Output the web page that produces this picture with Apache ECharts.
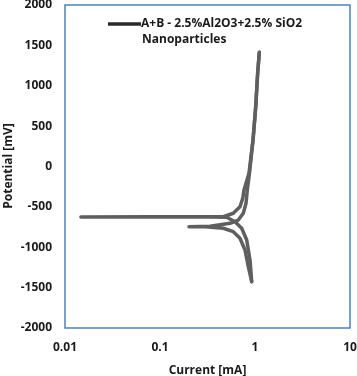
<!DOCTYPE html>
<html>
<head>
<meta charset="utf-8">
<script src="https://cdn.jsdelivr.net/npm/echarts@6/dist/echarts.min.js"></script>
<style>
	html, body { margin: 0; padding: 0; background: #fff; }
	#main { width: 357px; height: 376px; }
</style>
</head>
<body>
<div id="main"></div>
<script>
// curve 1 (Ecorr about -625 mV), traced from cathodic end upward
var curve1Current = [0.923, 0.886, 0.818, 0.724, 0.616, 0.504, 0.336, 0.0785, 0.0147,
	0.0785, 0.464, 0.591, 0.695, 0.743, 0.766, 0.865, 0.953, 1.017, 1.067, 1.11];
var curve1Potential = [-1427, -1158, -910, -765, -684, -629, -625, -625, -625,
	-622, -622, -579, -498, -394, -291, -80, 328, 737, 1158, 1414];

// curve 2 (Ecorr about -745 mV)
var curve2Current = [0.923, 0.85, 0.785, 0.695, 0.591, 0.464, 0.298, 0.202,
	0.336, 0.546, 0.667, 0.753, 0.804, 0.83, 0.875, 0.953, 1.017, 1.067, 1.11];
var curve2Potential = [-1427, -1241, -1034, -889, -807, -765, -746, -745,
	-741, -703, -663, -579, -456, -291, -80, 328, 737, 1158, 1414];

var xTickLabels = ['0.01', '0.1', '1', '10'];
var yTickLabels = ['-2000', '-1500', '-1000', '-500', '0', '500', '1000', '1500', '2000'];
var seriesName = 'A+B - 2.5%Al2O3+2.5% SiO2';
var seriesName2 = 'Nanoparticles';
var yAxisName = 'Potential [mV]';

function zip(xs, ys) {
	var out = [];
	for (var i = 0; i < xs.length; i++) {
		out.push([xs[i], ys[i]]);
	}
	return out;
}

var chart = echarts.init(document.getElementById('main'));
var font = '"Open Sans", sans-serif';
var textColor = '#1a1a1a';
var lineStyle = {
	color : '#5f5f5f',
	width : 3.5,
	cap : 'round',
	join : 'round'
};
var option = {
	animation : false,
	textStyle : { fontFamily : font },
	title : {
		text : seriesName2,
		left : 137,
		top : 29,
		textStyle : {
			fontSize : 12,
			fontWeight : 'bold',
			color : textColor,
			fontFamily : font
		}
	},
	// y axis title drawn as rotated text
	graphic : [ {
		type : 'text',
		x : 9,
		y : 166,
		rotation : Math.PI / 2,
		style : {
			text : yAxisName,
			fill : textColor,
			font : 'bold 12px "Open Sans", sans-serif',
			align : 'center',
			verticalAlign : 'middle'
		}
	} ],
	legend : {
		data : [ {
			name : seriesName,
			icon : 'rect',
			itemStyle : { color : '#2a2a2a' }
		} ],
		left : 103,
		top : 13,
		itemWidth : 33,
		itemHeight : 3.5,
		itemGap : 2,
		textStyle : {
			fontSize : 12,
			fontWeight : 'bold',
			color : textColor,
			fontFamily : font,
			padding : [0, 0, 0, -5]
		}
	},
	grid : {
		left : 65,
		top : 5,
		right : 7,
		bottom : 48,
		show : true,
		borderColor : '#4f81bd',
		borderWidth : 1.5,
		containLabel : false,
		outerBoundsMode : 'none'
	},
	xAxis : {
		type : 'log',
		logBase : 10,
		min : 0.01,
		max : 10,
		name : 'Current [mA]',
		nameLocation : 'middle',
		nameGap : 37,
		nameTextStyle : {
			fontSize : 12,
			fontWeight : 'bold',
			color : textColor,
			fontFamily : font
		},
		axisLine : { show : false },
		axisTick : { show : false },
		splitLine : { show : false },
		axisLabel : {
			fontSize : 12,
			fontWeight : 'bold',
			color : textColor,
			fontFamily : font,
			margin : 14,
			formatter : function(v) {
				var idx = Math.round(Math.log(v) / Math.LN10) + 2;
				return xTickLabels[idx];
			}
		}
	},
	yAxis : {
		type : 'value',
		min : -2000,
		max : 2000,
		interval : 500,
		axisLine : { show : false },
		axisTick : { show : false },
		splitLine : { show : false },
		axisLabel : {
			fontSize : 12,
			fontWeight : 'bold',
			color : textColor,
			fontFamily : font,
			margin : 13,
			formatter : function(v) {
				return yTickLabels[Math.round((v + 2000) / 500)];
			}
		}
	},
	series : [ {
		name : seriesName,
		type : 'line',
		data : zip(curve1Current, curve1Potential),
		showSymbol : false,
		symbol : 'none',
		lineStyle : lineStyle,
		itemStyle : { color : '#5f5f5f' }
	}, {
		name : seriesName,
		type : 'line',
		data : zip(curve2Current, curve2Potential),
		showSymbol : false,
		symbol : 'none',
		lineStyle : lineStyle,
		itemStyle : { color : '#5f5f5f' }
	} ]
};
chart.setOption(option);
</script>
</body>
</html>
